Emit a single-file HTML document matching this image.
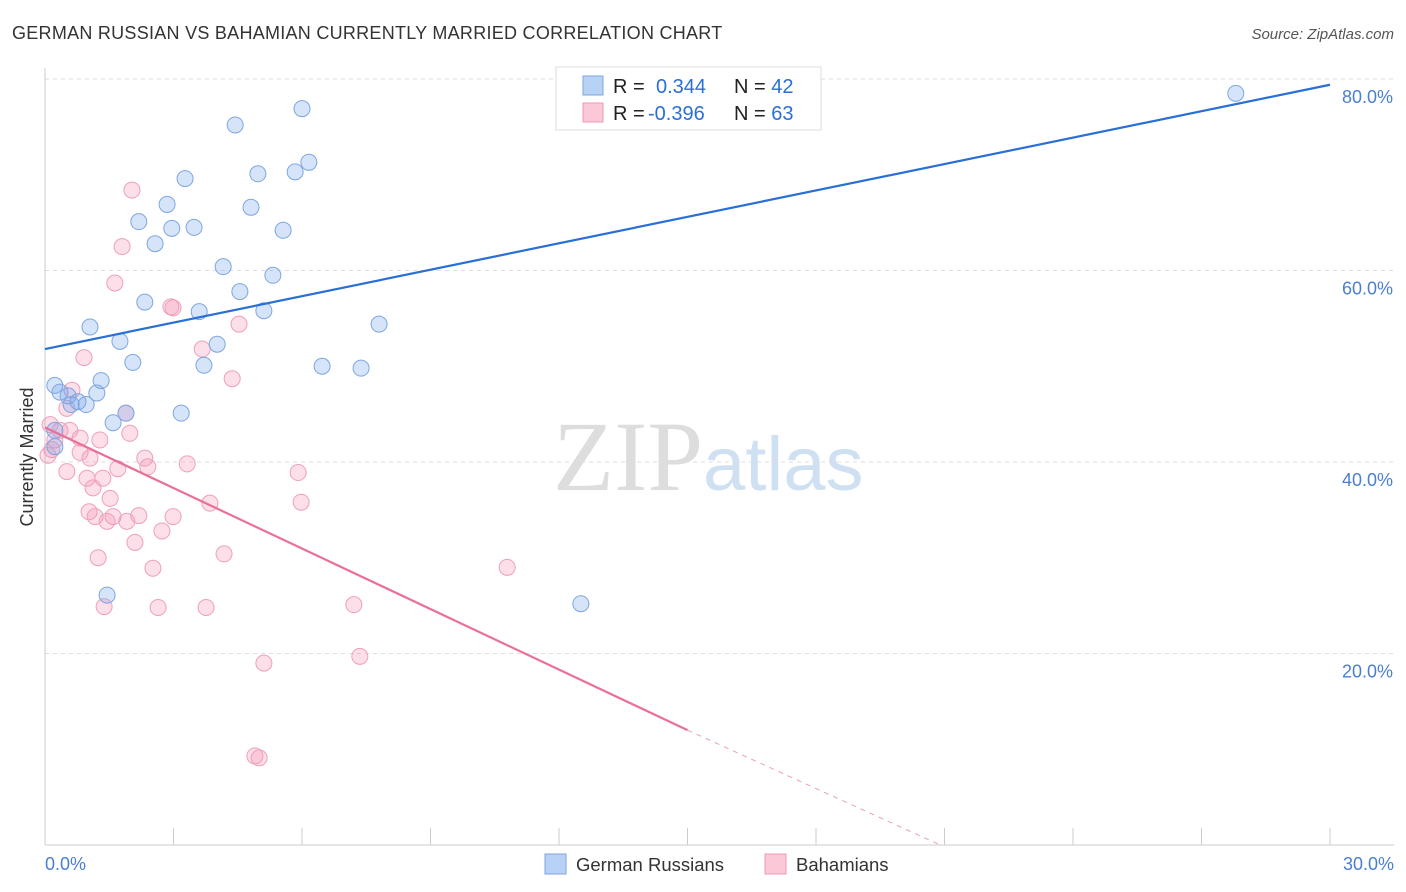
<!DOCTYPE html>
<html><head><meta charset="utf-8"><style>
body{margin:0;background:#fff;font-family:"Liberation Sans",sans-serif;}
</style></head><body>
<svg id="chart" width="1406" height="892" xmlns="http://www.w3.org/2000/svg" style="display:block">
<text x="12" y="39" font-size="18" fill="#333" letter-spacing="0.27">GERMAN RUSSIAN VS BAHAMIAN CURRENTLY MARRIED CORRELATION CHART</text>
<text x="1394" y="39" font-size="15" fill="#555" text-anchor="end" font-style="italic">Source: ZipAtlas.com</text>
<text x="553" y="490" font-size="100" fill="#ddd" font-family="Liberation Serif,serif">ZIP<tspan fill="#cfe0f3" font-family="Liberation Sans,sans-serif" font-size="76">atlas</tspan></text>
<text transform="translate(33,457) rotate(-90)" font-size="18" fill="#333" text-anchor="middle">Currently Married</text>
<g id="grid"></g><g id="axes"></g><g id="marks"></g>
<g>
<rect x="556" y="67" width="265" height="63" fill="#fff" stroke="#ddd"/>
<rect x="583" y="76" width="20" height="19" fill="#b8d2f5" stroke="#7ea6e0"/>
<rect x="583" y="103" width="20" height="19" fill="#fbc8d7" stroke="#ec9ab5"/>
<text x="613" y="93" font-size="20" fill="#222">R = <tspan x="656" fill="#2a6fd6">0.344</tspan><tspan x="734" fill="#222">N = </tspan><tspan fill="#2a6fd6">42</tspan></text>
<text x="613" y="120" font-size="20" fill="#222">R = <tspan x="648" fill="#2a6fd6">-0.396</tspan><tspan x="734" fill="#222">N = </tspan><tspan fill="#2a6fd6">63</tspan></text>
</g>
<g>
<rect x="545" y="854" width="21" height="20" fill="#b8d2f5" stroke="#7ea6e0"/>
<text x="576" y="871" font-size="18.5" fill="#333">German Russians</text>
<rect x="765" y="854" width="21" height="20" fill="#fbc8d7" stroke="#ec9ab5"/>
<text x="796" y="871" font-size="18.5" fill="#333">Bahamians</text>
</g>
</svg>
<script>
const yTicks=[20,40,60,80];
const yTickLabels=["20.0%","40.0%","60.0%","80.0%"];
const blueX=[27.8,4.44,6.0,6.16,5.84,4.97,3.27,4.81,2.85,2.19,2.96,3.48,5.56,2.57,4.16,5.32,4.55,2.33,3.6,5.11,7.8,1.05,1.75,4.02,2.05,3.71,6.47,7.38,0.23,1.31,0.35,0.54,1.21,0.77,0.96,0.61,1.89,3.18,1.59,0.23,0.23,1.45,12.51];
const blueY=[78.5,75.2,76.9,71.3,70.3,70.1,69.6,66.6,66.9,65.1,64.4,64.5,64.2,62.8,60.4,59.5,57.8,56.7,55.7,55.8,54.4,54.1,52.6,52.3,50.4,50.1,50.0,49.8,48.0,48.5,47.3,46.9,47.2,46.3,46.0,46.0,45.1,45.1,44.1,43.3,41.6,26.1,25.2];
const pinkX=[2.03,1.8,1.63,2.94,2.99,4.53,3.67,0.91,4.37,0.63,0.51,1.89,0.12,0.35,0.58,0.82,1.28,1.98,0.23,0.16,0.82,1.05,2.33,2.4,3.32,1.7,0.51,0.98,1.35,1.12,5.91,1.52,3.85,5.98,1.03,1.17,1.59,1.91,2.19,2.99,1.45,2.73,2.1,1.24,4.18,2.52,10.79,1.38,2.64,3.76,7.21,5.11,7.35,4.9,5.0,0.07];
const pinkY=[68.4,62.5,58.7,56.2,56.1,54.4,51.8,50.9,48.7,47.5,45.6,45.1,43.9,43.3,43.3,42.5,42.3,43.0,42.3,41.3,41.0,40.4,40.4,39.5,39.8,39.3,39.0,38.3,38.3,37.3,38.9,36.2,35.7,35.8,34.8,34.3,34.3,33.8,34.4,34.3,33.8,32.8,31.6,30.0,30.4,28.9,29.0,24.9,24.8,24.8,25.1,19.0,19.7,9.3,9.1,40.7];
const blueTrend=[51.8,79.4];
const pinkTrend=[43.6,12.0];
const pinkSolidEnd=15;
const pinkZeroX=20.9;
const NS="http://www.w3.org/2000/svg";
const xs=v=>45+v/30*1285, ys=v=>845-v*9.575;
function mk(p,t,a){const e=document.createElementNS(NS,t);for(const k in a)e.setAttribute(k,a[k]);p.appendChild(e);return e;}
const grid=document.getElementById('grid'),axes=document.getElementById('axes'),marks=document.getElementById('marks');
yTicks.forEach((t,i)=>{
 const l=mk(grid,'line',{x1:45,x2:1394,y1:ys(t),y2:ys(t),stroke:'#ddd','stroke-dasharray':'4,4'});
 
 
 const tx=mk(grid,'text',{x:1393,y:ys(t)+24,'font-size':18,fill:'#4a7fd0','text-anchor':'end'});
 tx.textContent=yTickLabels[i];
 
 
});
mk(axes,'line',{x1:45,x2:1394,y1:845,y2:845,stroke:'#ccc'});
mk(axes,'line',{x1:45,x2:45,y1:68,y2:845,stroke:'#ccc'});
for(let i=0;i<=10;i++){const l=mk(axes,'line',{x1:xs(i*3),x2:xs(i*3),y1:828,y2:845,stroke:'#ccc'});}
const xl0=mk(axes,'text',{x:45,y:870,'font-size':18,fill:'#4a7fd0'});xl0.textContent='0.0%';


const xl1=mk(axes,'text',{x:1394,y:870,'font-size':18,fill:'#4a7fd0','text-anchor':'end'});xl1.textContent='30.0%';


pinkX.forEach((x,i)=>{const c=mk(marks,'circle',{cx:xs(x),cy:ys(pinkY[i]),r:8,fill:'rgba(245,150,180,0.3)',stroke:'#eea0ba','stroke-width':1});
 
 });
blueX.forEach((x,i)=>{const c=mk(marks,'circle',{cx:xs(x),cy:ys(blueY[i]),r:8,fill:'rgba(120,165,235,0.3)',stroke:'#7ea6e0','stroke-width':1});
 
 });
const bl=mk(marks,'line',{x1:xs(0),y1:ys(blueTrend[0]),x2:xs(30),y2:ys(blueTrend[1]),stroke:'#2a6fd6','stroke-width':2.2});


const pl=mk(marks,'line',{x1:xs(0),y1:ys(pinkTrend[0]),x2:xs(pinkSolidEnd),y2:ys(pinkTrend[1]),stroke:'#e8709a','stroke-width':2.2});


const pd=mk(marks,'line',{x1:xs(pinkSolidEnd),y1:ys(pinkTrend[1]),x2:xs(pinkZeroX),y2:ys(0),stroke:'#e8a0b8','stroke-width':1,'stroke-dasharray':'5,5'});


</script>
</body></html>
